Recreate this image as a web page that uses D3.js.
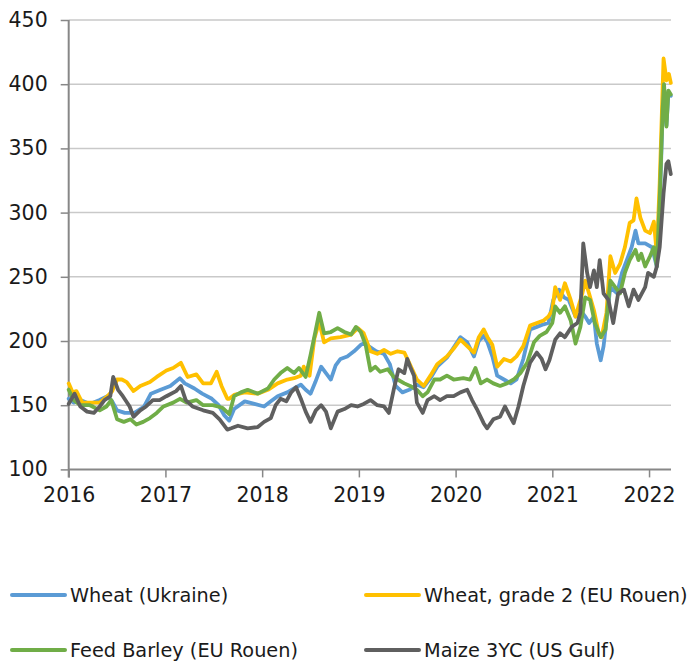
<!DOCTYPE html>
<html>
<head>
<meta charset="utf-8">
<script src="https://cdn.jsdelivr.net/npm/d3@7"></script>
<style>
  html, body { margin: 0; padding: 0; background: #fff; }
  svg { display: block; }
  text { font-family: "DejaVu Sans", sans-serif; fill: #1a1a1a; }
</style>
</head>
<body>
<svg id="chart" width="689" height="661"></svg>
<script>
// ---- data (decimal year, price) ----
const yearTicks = [2016, 2017, 2018, 2019, 2020, 2021, 2022];
const valueTicks = [100, 150, 200, 250, 300, 350, 400, 450];
const seriesNames = ["Wheat (Ukraine)", "Wheat, grade 2 (EU Rouen)", "Feed Barley (EU Rouen)", "Maize 3YC (US Gulf)"];
const seriesColors = ["#5b9bd5", "#ffc000", "#70ad47", "#5f5f5f"];

const wheatUkraine = [
  [2016.00,155],[2016.05,152],[2016.12,154],[2016.22,151],[2016.32,154],[2016.40,157],[2016.45,153],
  [2016.50,146],[2016.58,144],[2016.68,144],[2016.78,149],[2016.85,159],[2016.95,162],[2017.05,165],
  [2017.15,171],[2017.20,167],[2017.30,163],[2017.38,159],[2017.48,155],[2017.55,150],[2017.61,142],
  [2017.66,138],[2017.71,147],[2017.82,153],[2017.92,151],[2018.02,149],[2018.09,153],[2018.16,157],
  [2018.26,160],[2018.33,163],[2018.40,166],[2018.45,162],[2018.50,159],[2018.55,168],[2018.61,180],
  [2018.66,175],[2018.71,170],[2018.76,181],[2018.81,186],[2018.88,188],[2018.95,192],[2019.02,197],
  [2019.05,198],[2019.10,196],[2019.18,192],[2019.26,190],[2019.32,182],[2019.38,165],[2019.45,160],
  [2019.52,162],[2019.60,166],[2019.67,164],[2019.74,171],[2019.81,180],[2019.91,187],[2019.99,196],
  [2020.05,203],[2020.12,199],[2020.19,188],[2020.24,200],[2020.29,204],[2020.33,199],[2020.38,188],
  [2020.43,173],[2020.50,170],[2020.57,167],[2020.63,170],[2020.70,186],[2020.77,209],[2020.84,211],
  [2020.91,213],[2020.96,214],[2021.01,232],[2021.07,240],[2021.12,234],[2021.17,232],[2021.24,219],
  [2021.31,222],[2021.34,219],[2021.38,214],[2021.43,219],[2021.46,198],[2021.50,185],[2021.53,196],
  [2021.56,216],[2021.60,242],[2021.67,237],[2021.72,253],[2021.77,263],[2021.82,273],[2021.86,286],
  [2021.89,276],[2021.96,276],[2022.03,273],[2022.08,258],[2022.11,305],[2022.14,376],[2022.155,396],
  [2022.18,368],[2022.20,393],[2022.225,391]
];

const wheatRouen = [
  [2016.00,167],[2016.04,160],[2016.08,161],[2016.14,152],[2016.25,152],[2016.32,152],[2016.40,157],
  [2016.45,161],[2016.50,170],[2016.55,170],[2016.60,168],[2016.67,161],[2016.74,165],[2016.84,168],
  [2016.91,172],[2017.01,177],[2017.08,179],[2017.16,183],[2017.23,172],[2017.32,174],[2017.39,167],
  [2017.47,167],[2017.53,176],[2017.58,165],[2017.64,155],[2017.66,155],[2017.71,158],[2017.82,160],
  [2017.955,159],[2018.06,162],[2018.16,167],[2018.26,170],[2018.33,171],[2018.40,173],[2018.43,180],
  [2018.49,173],[2018.54,202],[2018.59,215],[2018.64,199],[2018.71,202],[2018.81,203],[2018.92,205],
  [2018.99,210],[2019.05,206],[2019.12,192],[2019.19,190],[2019.26,193],[2019.33,190],[2019.40,192],
  [2019.47,191],[2019.52,183],[2019.60,170],[2019.67,165],[2019.74,173],[2019.81,182],[2019.91,188],
  [2019.99,195],[2020.05,201],[2020.12,196],[2020.19,191],[2020.24,203],[2020.29,209],[2020.33,203],
  [2020.38,197],[2020.43,180],[2020.50,186],[2020.57,184],[2020.63,188],[2020.70,196],[2020.77,212],
  [2020.84,214],[2020.91,216],[2020.96,219],[2021.00,224],[2021.03,242],[2021.08,232],[2021.13,245],
  [2021.19,232],[2021.24,219],[2021.31,237],[2021.34,247],[2021.38,237],[2021.43,224],[2021.48,206],
  [2021.51,203],[2021.56,222],[2021.60,266],[2021.65,253],[2021.70,260],[2021.75,273],[2021.80,292],
  [2021.84,294],[2021.87,311],[2021.91,296],[2021.96,286],[2022.01,284],[2022.05,293],[2022.08,268],
  [2022.11,323],[2022.15,420],[2022.18,403],[2022.205,408],[2022.225,401]
];

const feedBarley = [
  [2016.00,162],[2016.05,154],[2016.12,150],[2016.22,150],[2016.32,146],[2016.39,149],[2016.44,154],
  [2016.50,139],[2016.57,137],[2016.64,139],[2016.70,135],[2016.77,137],[2016.84,140],[2016.91,144],
  [2016.98,149],[2017.08,152],[2017.15,155],[2017.22,152],[2017.32,154],[2017.39,150],[2017.49,150],
  [2017.59,148],[2017.66,143],[2017.71,157],[2017.78,160],[2017.85,162],[2017.955,159],[2018.06,163],
  [2018.125,170],[2018.19,175],[2018.26,179],[2018.33,175],[2018.38,179],[2018.45,172],[2018.50,189],
  [2018.55,207],[2018.59,222],[2018.64,206],[2018.71,207],[2018.78,210],[2018.85,207],[2018.92,205],
  [2018.97,211],[2019.02,207],[2019.07,197],[2019.12,177],[2019.17,180],[2019.22,176],[2019.30,178],
  [2019.36,172],[2019.40,170],[2019.47,167],[2019.53,165],[2019.60,162],[2019.66,157],[2019.71,160],
  [2019.78,170],[2019.84,170],[2019.91,173],[2019.98,170],[2020.08,171],[2020.15,170],[2020.205,179],
  [2020.26,167],[2020.325,170],[2020.39,167],[2020.46,165],[2020.53,167],[2020.60,170],[2020.67,175],
  [2020.74,183],[2020.81,199],[2020.87,204],[2020.94,207],[2021.00,214],[2021.03,227],[2021.08,222],
  [2021.13,227],[2021.19,216],[2021.24,198],[2021.29,211],[2021.34,234],[2021.39,232],[2021.44,214],
  [2021.50,203],[2021.55,209],[2021.60,247],[2021.65,242],[2021.70,237],[2021.75,253],[2021.80,263],
  [2021.86,271],[2021.89,263],[2021.92,268],[2021.96,258],[2022.01,266],[2022.05,273],[2022.08,258],
  [2022.11,310],[2022.14,380],[2022.155,400],[2022.18,367],[2022.20,395],[2022.225,392]
];

const maizeGulf = [
  [2016.00,151],[2016.06,159],[2016.12,149],[2016.19,145],[2016.26,144],[2016.32,149],[2016.37,154],
  [2016.43,157],[2016.46,172],[2016.51,162],[2016.56,157],[2016.63,149],[2016.67,141],[2016.74,146],
  [2016.80,149],[2016.87,154],[2016.94,154],[2017.01,157],[2017.11,161],[2017.16,165],[2017.21,154],
  [2017.28,149],[2017.39,146],[2017.49,144],[2017.56,139],[2017.64,131],[2017.68,132],[2017.75,134],
  [2017.85,132],[2017.955,133],[2018.02,137],[2018.09,140],[2018.14,150],[2018.19,155],[2018.25,153],
  [2018.30,160],[2018.35,164],[2018.40,155],[2018.45,145],[2018.50,137],[2018.555,146],[2018.61,150],
  [2018.66,145],[2018.71,132],[2018.78,145],[2018.85,147],[2018.92,150],[2018.985,149],[2019.05,151],
  [2019.12,154],[2019.19,150],[2019.26,149],[2019.31,144],[2019.36,162],[2019.41,178],[2019.47,175],
  [2019.50,186],[2019.53,180],[2019.57,173],[2019.60,152],[2019.66,144],[2019.71,154],[2019.78,157],
  [2019.84,154],[2019.91,157],[2019.98,157],[2020.05,160],[2020.12,162],[2020.17,154],[2020.22,147],
  [2020.29,136],[2020.325,132],[2020.39,139],[2020.46,141],[2020.51,149],[2020.565,141],[2020.60,136],
  [2020.65,149],[2020.70,165],[2020.77,183],[2020.84,191],[2020.89,186],[2020.93,178],[2020.97,185],
  [2021.03,201],[2021.08,206],[2021.13,203],[2021.20,211],[2021.26,214],[2021.29,222],[2021.32,276],
  [2021.36,253],[2021.39,242],[2021.43,255],[2021.46,242],[2021.49,263],[2021.53,237],[2021.58,232],
  [2021.63,214],[2021.68,237],[2021.74,240],[2021.79,227],[2021.84,240],[2021.89,232],[2021.96,242],
  [2021.99,253],[2022.05,250],[2022.08,258],[2022.11,273],[2022.15,315],[2022.18,338],[2022.20,340],
  [2022.225,330]
];

const seriesData = [wheatUkraine, wheatRouen, feedBarley, maizeGulf];

// ---- layout ----
const svg = d3.select("#chart");
const x = d3.scaleLinear().domain([2016, 2022.227]).range([68.7, 671]);
const y = d3.scaleLinear().domain([100, 450]).range([469.4, 20]);

// gridlines
svg.append("g")
  .selectAll("line")
  .data(valueTicks.filter(v => v > 100))
  .join("line")
  .attr("x1", x(2016)).attr("x2", 671)
  .attr("y1", d => y(d)).attr("y2", d => y(d))
  .attr("stroke", "#c9c9c9").attr("stroke-width", 1.5);

// y axis
const yAxis = svg.append("g")
  .attr("transform", `translate(${x(2016)},0)`)
  .call(d3.axisLeft(y).tickValues(valueTicks).tickSize(8).tickPadding(13).tickFormat(d3.format("d")));
yAxis.select(".domain").remove();
yAxis.selectAll(".tick line").attr("stroke", "#878787").attr("stroke-width", 1.5);
yAxis.selectAll(".tick text").style("font-size", "20.5px").attr("fill", "#1a1a1a");

// x axis
const xAxis = svg.append("g")
  .attr("transform", `translate(0,${y(100)})`)
  .call(d3.axisBottom(x).tickValues(yearTicks).tickSize(8).tickPadding(10).tickFormat(d3.format("d")));
xAxis.select(".domain").remove();
xAxis.selectAll(".tick line").attr("stroke", "#878787").attr("stroke-width", 1.5);
xAxis.selectAll(".tick text").style("font-size", "20.5px").attr("fill", "#1a1a1a");

// axis lines
svg.append("line").attr("x1", x(2016)).attr("x2", x(2016)).attr("y1", y(450)).attr("y2", y(100) + 8)
  .attr("stroke", "#878787").attr("stroke-width", 2);
svg.append("line").attr("x1", x(2016)).attr("x2", 671).attr("y1", y(100)).attr("y2", y(100))
  .attr("stroke", "#878787").attr("stroke-width", 2);

// lines
const line = d3.line().x(d => x(d[0])).y(d => y(d[1]));
svg.append("g")
  .selectAll("path")
  .data(seriesData)
  .join("path")
  .attr("d", line)
  .attr("fill", "none")
  .attr("stroke", (d, i) => seriesColors[i])
  .attr("stroke-width", 3.8)
  .attr("stroke-linejoin", "round")
  .attr("stroke-linecap", "round");

// legend
const legendPos = [[12, 595], [366, 595], [12, 650], [366, 650]];
const lg = svg.append("g").selectAll("g").data(seriesNames).join("g")
  .attr("transform", (d, i) => `translate(${legendPos[i][0]},${legendPos[i][1]})`);
lg.append("line").attr("x1", 0).attr("x2", 53).attr("y1", 0).attr("y2", 0)
  .attr("stroke", (d, i) => seriesColors[i]).attr("stroke-width", 4).attr("stroke-linecap", "round");
lg.append("text").attr("x", 58).attr("y", 0).attr("dy", "0.36em")
  .style("font-size", "19.3px").text(d => d);
</script>
</body>
</html>
